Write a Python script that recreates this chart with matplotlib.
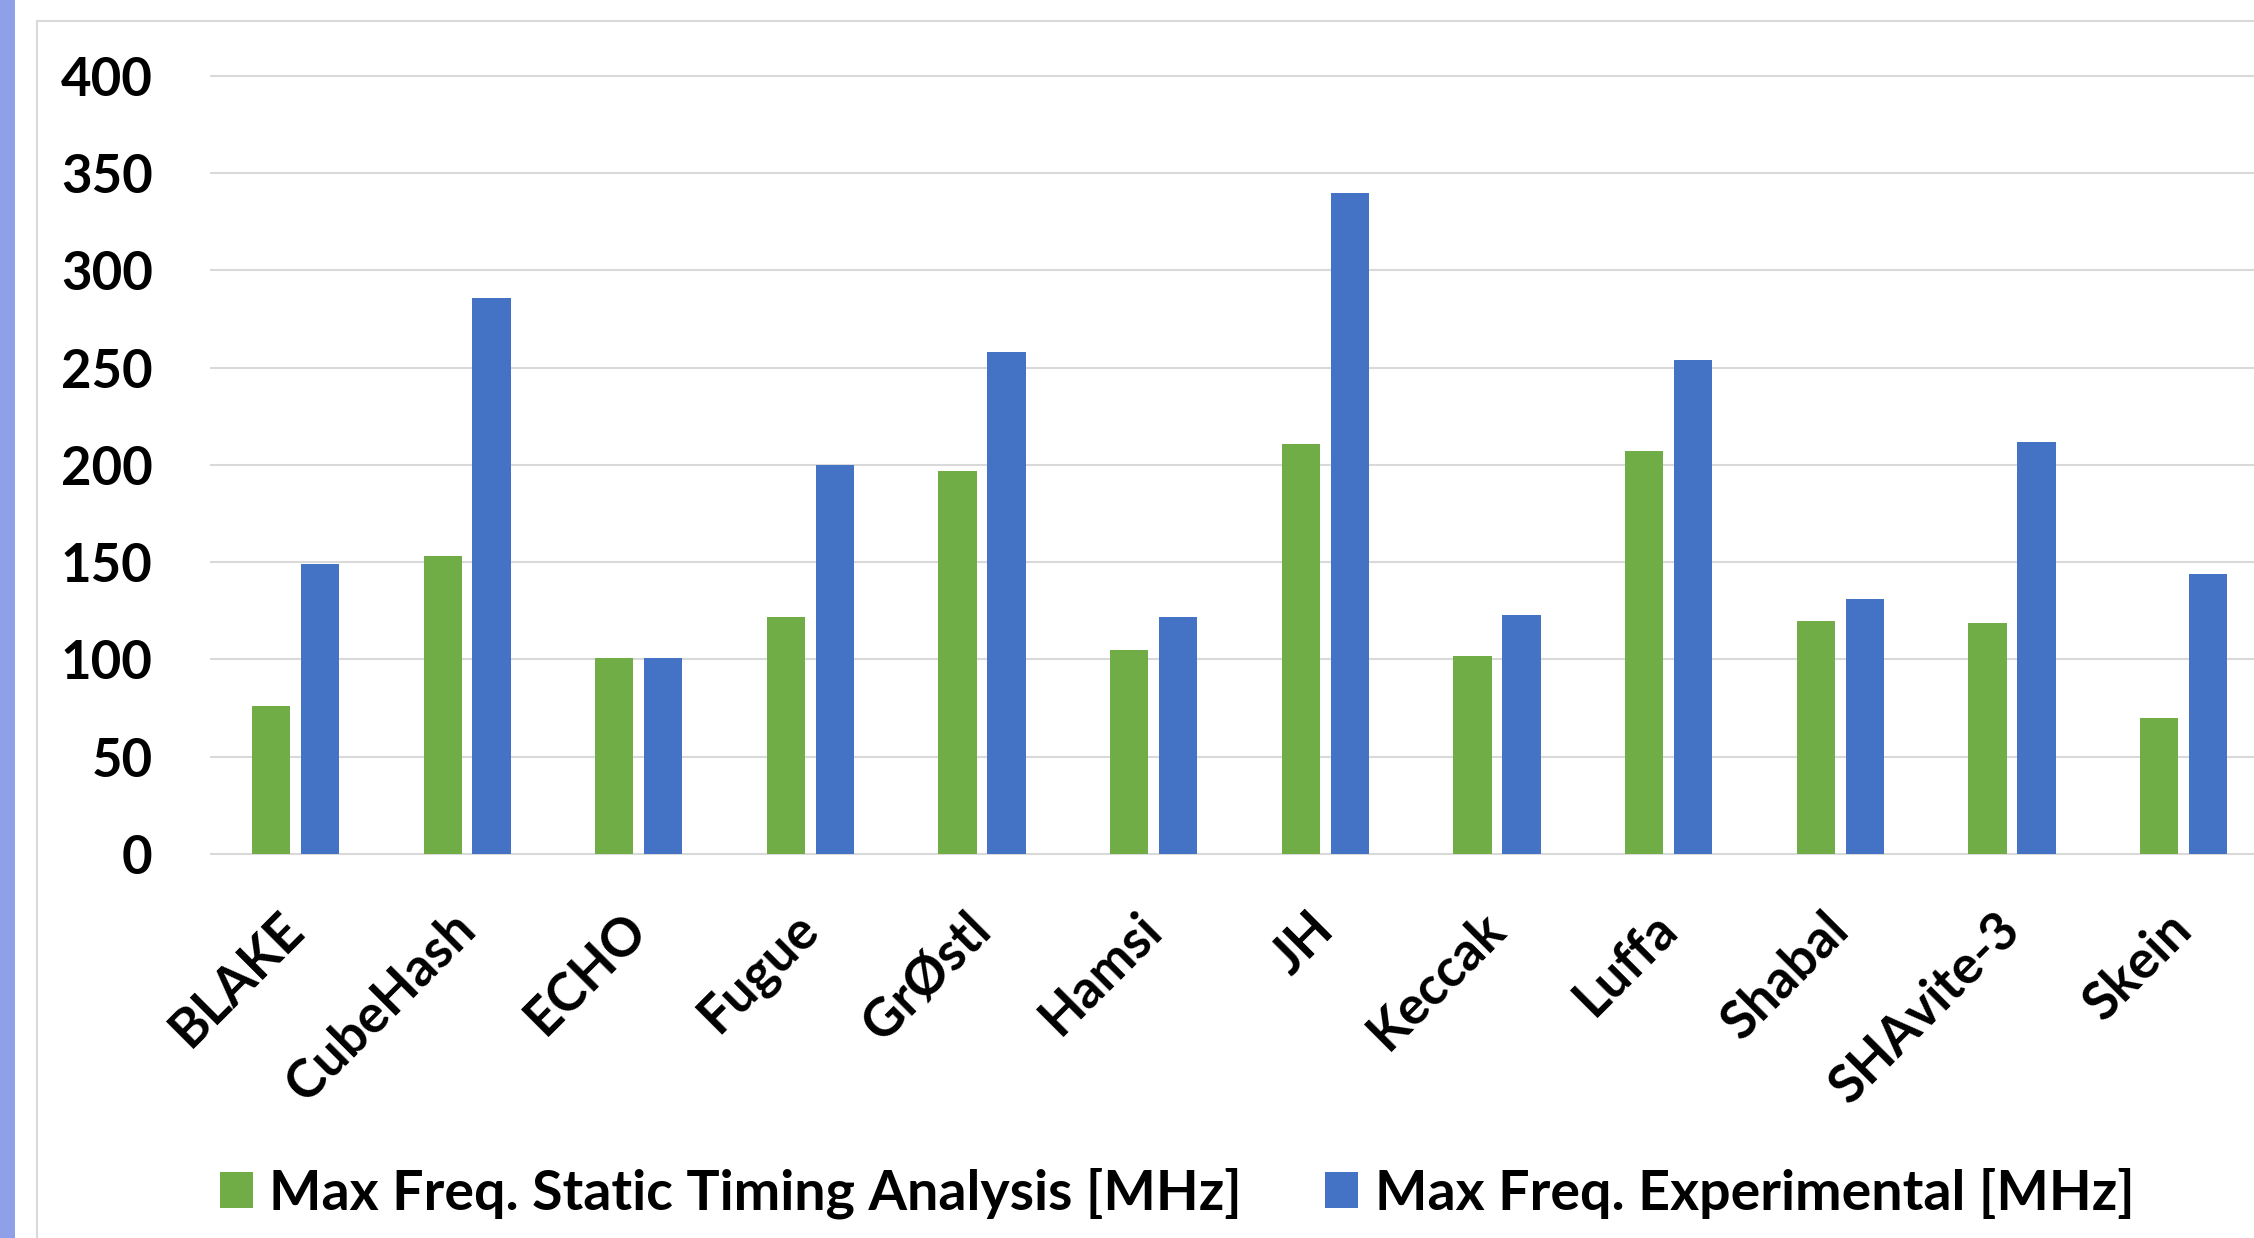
import numpy as np
import matplotlib
matplotlib.use('Agg')
import matplotlib.pyplot as plt
import matplotlib.transforms as mtransforms
from matplotlib.patches import Rectangle


# Data: maximum clock frequency of the SHA-3 round 2 candidates
algorithms = ['BLAKE', 'CubeHash', 'ECHO', 'Fugue', 'GrØstl', 'Hamsi', 'JH',
              'Keccak', 'Luffa', 'Shabal', 'SHAvite-3', 'Skein']
freq_sta = [76, 153, 101, 122, 197, 105, 211, 102, 207, 120, 119, 70]
freq_exp = [149, 286, 101, 200, 258, 122, 340, 123, 254, 131, 212, 144]
label_sta = 'Max Freq. Static Timing Analysis [MHz]'
label_exp = 'Max Freq. Experimental [MHz]'
y_ticks = [0, 50, 100, 150, 200, 250, 300, 350, 400]

# Style
green = '#70AD47'
blue = '#4472C4'
grid_color = '#D9D9D9'
bar_width = 0.223
bar_gap = 0.062
plt.rcParams['font.family'] = ['Lato', 'DejaVu Sans']
plt.rcParams['font.weight'] = 'bold'

fig = plt.figure(figsize=(22.54, 12.38), dpi=100)
ax = fig.add_axes([0.0930, 0.30703, 0.9070, 0.6379])

x = np.arange(len(algorithms))
shift = (bar_width + bar_gap) / 2
ax.bar(x - shift, freq_sta, bar_width, color=green, label=label_sta, zorder=3)
ax.bar(x + shift, freq_exp, bar_width, color=blue, label=label_exp, zorder=3)

ax.set_xlim(-0.5, 11.41)
ax.set_ylim(-2, 404)
ax.set_yticks(y_ticks)
ax.set_yticklabels([str(v) for v in y_ticks], fontsize=38, fontweight='bold')
ax.yaxis.grid(True, color=grid_color, linewidth=1.5, zorder=0)
ax.set_axisbelow(True)
ax.tick_params(axis='y', length=0, pad=41)
ax.tick_params(axis='x', length=0, pad=33)
for side in ['top', 'right', 'left', 'bottom']:
    ax.spines[side].set_visible(False)

ax.set_xticks(x)
ax.set_xticklabels(algorithms, fontsize=38, fontweight='bold', rotation=45,
                   ha='right', va='top', rotation_mode='anchor')
# nudge the rotated labels so their ends sit just right of the group centre
offset = mtransforms.ScaledTranslation(-17 / 100, 0, fig.dpi_scale_trans)
for lbl in ax.get_xticklabels():
    lbl.set_transform(lbl.get_transform() + offset)

fig.legend(loc='center', bbox_to_anchor=(1177 / 2254, 0.036), ncol=2, frameon=False,
           prop={'size': 40, 'weight': 'bold'}, handlelength=0.6, handleheight=0.6,
           handletextpad=0.29, columnspacing=1.5)

# Slide frame and side strip
fig.add_artist(Rectangle((37 / 2254, -0.1), 1.1, 1.1 - 21 / 1238, transform=fig.transFigure,
                         fill=False, edgecolor=grid_color, linewidth=1.5))
fig.add_artist(Rectangle((0, 0), 15 / 2254, 1, transform=fig.transFigure,
                         facecolor='#8EA0E8', edgecolor='none'))

fig.savefig('out.png', dpi=100)
